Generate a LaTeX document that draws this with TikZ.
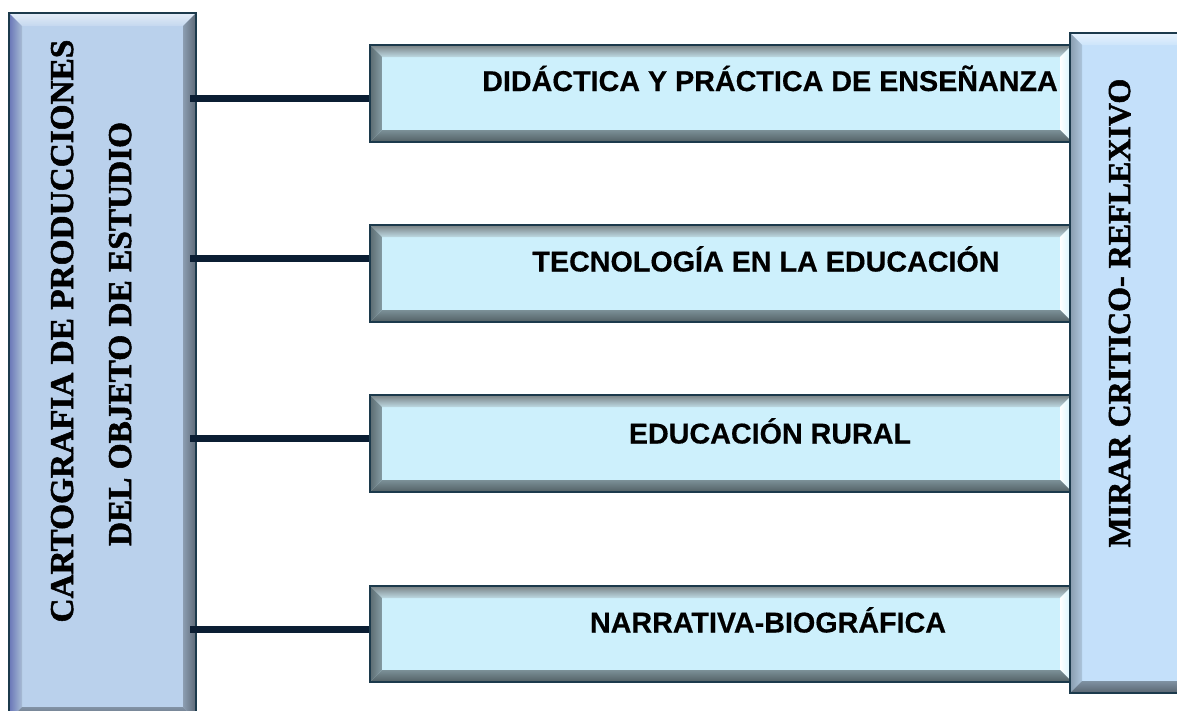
\documentclass[tikz,border=0pt]{standalone}
\usepackage{fontspec}
\setmainfont{Liberation Serif}
\newfontfamily\sansf{Liberation Sans}[BoldFeatures={FakeBold=0.4}]
\newfontfamily\seriff{Liberation Serif}[BoldFeatures={FakeBold=1.6}]
\usetikzlibrary{calc}
\definecolor{border}{HTML}{1C3A4C}
\definecolor{conncol}{HTML}{0B1E33}
\definecolor{midfill}{HTML}{CDF0FC}
\definecolor{leftfill}{HTML}{BAD1EC}
\definecolor{rightfill}{HTML}{C4E0FA}
\tikzset{
  boxnode/.style={rectangle, draw=none, inner sep=0pt, outer sep=0pt},
  conn/.style={draw=conncol, line width=7pt},
  midtext/.style={font=\sansf\bfseries\fontsize{28.7}{30}\selectfont, anchor=base, inner sep=0pt},
  sidetext/.style={font=\seriff\bfseries\fontsize{33.3}{36}\selectfont, anchor=base, rotate=90, inner sep=0pt},
}
% #1 node, #2 bevel width, #3 fill, #4 top a, #5 top b, #6 left a, #7 left b, #8 right a, #9 right b
\newcommand\bevelbox[9]{%
  \fill[#3] (#1.north west) rectangle (#1.south east);
  \shade[top color=#4, bottom color=#5] (#1.north west) -- (#1.north east) -- ($(#1.north east)+(-#2,#2)$) -- ($(#1.north west)+(#2,#2)$) -- cycle;
  \shade[left color=#6, right color=#7] (#1.north west) -- ($(#1.north west)+(#2,#2)$) -- ($(#1.south west)+(#2,-#2)$) -- (#1.south west) -- cycle;
  \shade[left color=#8, right color=#9] (#1.north east) -- ($(#1.north east)+(-#2,#2)$) -- ($(#1.south east)+(-#2,-#2)$) -- (#1.south east) -- cycle;
}
\newcommand\bevelbottom[4]{%
  \shade[top color=#3, bottom color=#4] (#1.south west) -- ($(#1.south west)+(#2,-#2)$) -- ($(#1.south east)+(-#2,-#2)$) -- (#1.south east) -- cycle;
  \draw[border, line width=2.5pt] (#1.north west) rectangle (#1.south east);
}
\begin{document}
\begin{tikzpicture}[x=1pt, y=-1pt]
\useasboundingbox (0,0) rectangle (1177,710);
\clip (0,0) rectangle (1177,710);
\fill[white] (0,0) rectangle (1177,710);
% box nodes
\node[boxnode, minimum width=187pt, minimum height=707pt] (L) at (102.5,366.5) {};
\node[boxnode, minimum width=702pt, minimum height=97pt] (A) at (721,93.5) {};
\node[boxnode, minimum width=702pt, minimum height=97pt] (B) at (721,273.5) {};
\node[boxnode, minimum width=702pt, minimum height=97pt] (C) at (721,443.5) {};
\node[boxnode, minimum width=702pt, minimum height=96pt] (D) at (721,634) {};
\node[boxnode, minimum width=125pt, minimum height=660pt] (R) at (1132.5,363) {};
\coordinate (Le) at ([xshift=-6pt]L.east);
\coordinate (a1) at ([yshift=-4.5pt]A.west);
\coordinate (b1) at ([yshift=15.5pt]B.west);
\coordinate (c1) at ([yshift=5.5pt]C.west);
\coordinate (d1) at ([yshift=5pt]D.west);
% left box
\bevelbox{L}{13}{leftfill}{white!60!leftfill}{leftfill!85!white}{leftfill!70!black!80!blue}{leftfill!90!black}{leftfill!75!black}{leftfill!50!black}
\bevelbottom{L}{13}{leftfill!70!black}{leftfill!50!black}
% connectors
\draw[conn] (a1) -- (Le |- a1);
\draw[conn] (b1) -- (Le |- b1);
\draw[conn] (c1) -- (Le |- c1);
\draw[conn] (d1) -- (Le |- d1);
% middle boxes
\foreach \n in {A,B,C,D}{
  \bevelbox{\n}{12}{midfill}{midfill!55!black!45!gray}{midfill!80!gray}{midfill!45!black}{midfill!65!black}{white}{midfill!85!white}
  \bevelbottom{\n}{12}{midfill!60!black}{midfill!40!black}
}
% right box
\bevelbox{R}{12}{rightfill}{white!60!rightfill}{rightfill!85!white}{rightfill!70!black}{rightfill!88!black}{rightfill}{rightfill}
\bevelbottom{R}{12}{rightfill!65!black}{rightfill!45!black}
% texts
\node[midtext] (tA) at (770,91) {DIDÁCTICA Y PRÁCTICA DE ENSEÑANZA};
\node[midtext] (tB) at (766,271.5) {TECNOLOGÍA EN LA EDUCACIÓN};
\node[midtext] (tC) at (770,443.5) {EDUCACIÓN RURAL};
\node[midtext] (tD) at (768,632.5) {NARRATIVA-BIOGRÁFICA};
\node[sidetext] (tL1) at (73,331) {CARTOGRAFIA DE PRODUCCIONES};
\node[sidetext] (tL2) at (131,334) {DEL OBJETO DE ESTUDIO};
\node[sidetext, font=\seriff\bfseries\fontsize{32}{34}\selectfont] (tR) at (1130,313) {MIRAR CRITICO- REFLEXIVO};
\end{tikzpicture}
\end{document}
